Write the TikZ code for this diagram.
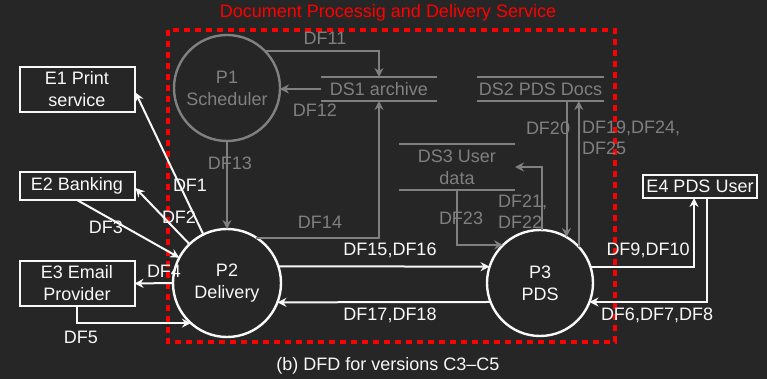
\documentclass[tikz,border=0pt]{standalone}
\usepackage{fontspec}
\setmainfont{Liberation Sans}
\usetikzlibrary{arrows.meta,calc}
\definecolor{bgc}{HTML}{262626}
\definecolor{grc}{HTML}{808080}
\definecolor{whc}{HTML}{F8F8F8}
\begin{document}
\begin{tikzpicture}[x=1pt,y=-1pt,
  every node/.style={font=\fontsize{18}{22}\selectfont, inner sep=0pt, outer sep=0pt},
  tip/.style={-{Stealth[length=9pt,width=9pt,inset=3pt]}},
  wline/.style={draw=whc, line width=2pt, tip},
  gline/.style={draw=grc, line width=2pt, tip},
  procw/.style={circle, draw=whc, text=whc, line width=2.4pt, align=center},
  procg/.style={circle, draw=grc, text=grc, line width=2.4pt, align=center},
  extbox/.style={draw=whc, text=whc, line width=2pt, align=center, minimum width=115pt},
  store/.style={text=grc, align=center},
  wlbl/.style={text=whc},
  glbl/.style={text=grc}
]
\fill[bgc] (0,0) rectangle (767,379);
\useasboundingbox (0,0) rectangle (767,379);

% boundary
\node[text=red] (title) at (388,13) {Document Processig and Delivery Service};
\draw[red, line width=3.5pt, dash pattern=on 6pt off 5pt] (168,30) rectangle (615,342);

% processes
\node[procg, minimum size=106pt] (p1) at (227,88) {P1\\Scheduler};
\node[procw, minimum size=108pt] (p2) at (227,283) {P2\\Delivery};
\node[procw, minimum size=106pt] (p3) at (540,283) {P3\\PDS};

% data stores
\node[store, minimum width=116pt, minimum height=24pt] (ds1) at (379,89) {DS1 archive};
\node[store, minimum width=127pt, minimum height=24pt] (ds2) at (540.5,89) {DS2 PDS Docs};
\node[store, minimum width=116pt, minimum height=46pt] (ds3) at (457,167) {DS3 User\\data};
\foreach \s in {ds1,ds2,ds3}{
  \draw[grc, line width=2pt] (\s.north west) -- (\s.north east);
  \draw[grc, line width=2pt] (\s.south west) -- (\s.south east);
}

% external entities
\node[extbox, minimum height=45pt] (e1) at (77,89.5) {E1 Print\\service};
\node[extbox, minimum height=28pt] (e2) at (77,186) {E2 Banking};
\node[extbox, minimum height=45pt] (e3) at (77,283.5) {E3 Email\\Provider};
\node[extbox, minimum width=114pt, minimum height=23pt] (e4) at (700,186.5) {E4 PDS User};

% gray flows
\draw[gline] (p1.44) -| (ds1.north);
\draw[gline] (ds1.west) -- (ds1.west -| p1.east);
\draw[gline] (p1.south) -- (p2.north);
\draw[gline] (p2.57) -| (ds1.south);
\draw[gline] (p3.60 |- ds2.south) -- (p3.60);
\draw[gline] (p3.43) -- (p3.43 |- ds2.south);
\draw[gline] (ds3.south) |- (p3.134);
\draw[gline] (p3.88) |- (ds3.east);

% white flows
\draw[wline] (p2.18) -- (p3.162);
\draw[wline] (p3.201) -- (p2.339);
\draw[wline] (p3.18) -| ($(e4.south)+(-6,0)$);
\draw[wline] ($(e4.south)+(7,0)$) |- (p3.339);
\draw[wline] (p2.116) -- ($(e1.east)+(1,3)$);
\draw[wline] (p2.134) -- ($(e2.east)+(1,2)$);
\draw[wline] (e2.south) -- (p2.152);
\draw[wline] (p2.west) -- (e3.east);
\draw[wline] (e3.south) |- (p2.228);

% labels
\node[glbl] (l11) at (325,38) {DF11};
\node[glbl] (l12) at (315,110) {DF12};
\node[glbl] (l13) at (230,163) {DF13};
\node[glbl] (l14) at (320,222) {DF14};
\node[glbl] (l20) at (548,128) {DF20};
\node[glbl, anchor=west] (l19) at (582,128) {DF19,DF24,};
\node[glbl, anchor=west] (l25) at (582,148) {DF25};
\node[glbl] (l23) at (461,218) {DF23};
\node[glbl, anchor=west] (l21) at (498,202) {DF21,};
\node[glbl, anchor=west] (l22) at (498,222) {DF22};
\node[wlbl] (l15) at (390,250) {DF15,DF16};
\node[wlbl] (l17) at (390,315) {DF17,DF18};
\node[wlbl] (l9) at (648,250) {DF9,DF10};
\node[wlbl] (l6) at (657,315) {DF6,DF7,DF8};
\node[wlbl] (l1) at (190,185) {DF1};
\node[wlbl] (l2) at (179,217) {DF2};
\node[wlbl] (l3) at (106,227) {DF3};
\node[wlbl] (l4) at (164,271) {DF4};
\node[wlbl] (l5) at (81,337) {DF5};

\node[wlbl] (cap) at (388,366) {(b) DFD for versions C3–C5};
\end{tikzpicture}
\end{document}
